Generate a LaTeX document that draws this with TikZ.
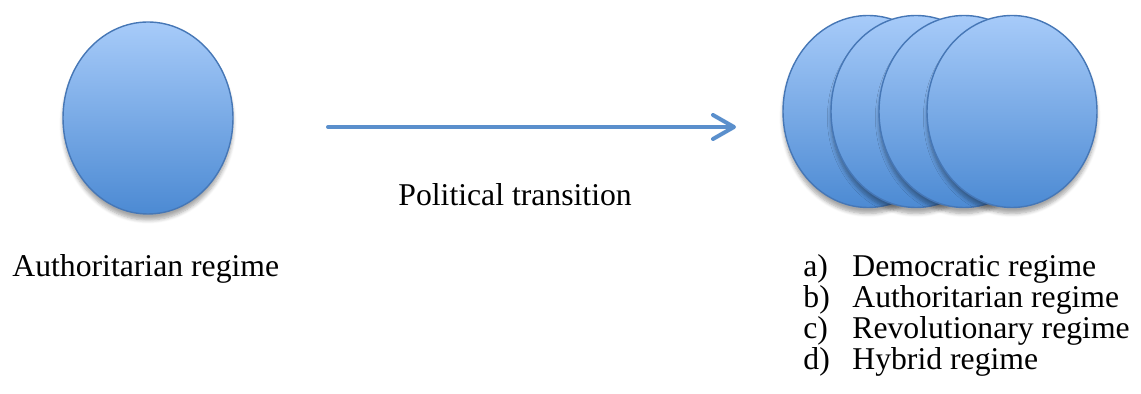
\documentclass[tikz,border=0pt]{standalone}
\usepackage{fontspec}
\setmainfont{Liberation Serif}
\usetikzlibrary{shapes.geometric,arrows.meta,shadows.blur}
\definecolor{regimetop}{HTML}{A7CBF9}
\definecolor{regimebottom}{HTML}{4C8AD3}
\definecolor{regimeline}{HTML}{4677B6}
\definecolor{arrowblue}{HTML}{5A8FCC}
\tikzset{
  regime/.style = {ellipse, draw=regimeline, line width=0.7pt,
                   top color=regimetop, bottom color=regimebottom,
                   minimum width=85pt, minimum height=96pt, inner sep=0pt,
                   blur shadow={shadow xshift=0pt, shadow yshift=-3pt,
                                shadow blur steps=6, shadow opacity=35}},
  regimetext/.style = {anchor=base west, inner sep=0pt,
                       font=\fontsize{15.85}{18}\selectfont},
  transition/.style = {draw=arrowblue, line width=2pt, line cap=round,
                       -{Straight Barb[length=10.5pt, width=12pt, round]}}
}

\begin{document}
\begin{tikzpicture}[x=0.5pt, y=-0.5pt]
	\def \dx{48}
	\def \h{30.7}
	\useasboundingbox (0,0) rectangle (1141,394);
	
	% Before
	\node[regime] (before) at (148,118) {};
	\node[regimetext] (before-name) at (12,277) {Authoritarian regime};
	
	% After (four possible outcomes)
	\node[regime] (after-a) at (868,111.5) {};
	\node[regime] (after-b) at (868+1*\dx,111.5) {};
	\node[regime] (after-c) at (868+2*\dx,111.5) {};
	\node[regime] (after-d) at (868+3*\dx,111.5) {};
	
	% Transition
	\coordinate (tail) at (328,127);
	\coordinate (head) at (736,127);
	\draw[transition] (tail) -- (head);
	\node[regimetext] (transition-name) at (398,206) {Political transition};
	
	% Outcomes
	\node[regimetext] (item-a) at (803,277) {a)};
	\node[regimetext] (name-a) at (852,277) {Democratic regime};
	\node[regimetext] (item-b) at (803,277+1*\h) {b)};
	\node[regimetext] (name-b) at (852,277+1*\h) {Authoritarian regime};
	\node[regimetext] (item-c) at (803,277+2*\h) {c)};
	\node[regimetext] (name-c) at (852,277+2*\h) {Revolutionary regime};
	\node[regimetext] (item-d) at (803,277+3*\h) {d)};
	\node[regimetext] (name-d) at (852,277+3*\h) {Hybrid regime};
	
\end{tikzpicture}
\end{document}
